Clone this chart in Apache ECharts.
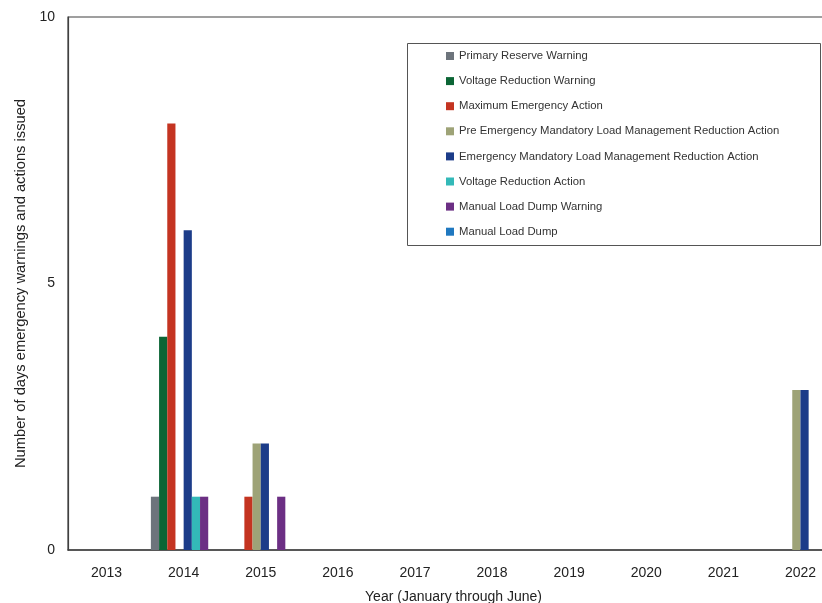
<!DOCTYPE html>
<html>
<head>
<meta charset="utf-8">
<script src="https://cdn.jsdelivr.net/npm/echarts@6/dist/echarts.min.js"></script>
<style>
  html, body { margin: 0; padding: 0; background: #fff; }
  #main { width: 822px; height: 603px; }
</style>
</head>
<body>
<div id="main"></div>
<script>
// 年份（一月到六月）
var years = ['2013', '2014', '2015', '2016', '2017', '2018', '2019', '2020', '2021', '2022'];

// 各类预警/行动的天数
var primaryReserveWarning   = [0, 1, 0, 0, 0, 0, 0, 0, 0, 0];
var voltageReductionWarning = [0, 4, 0, 0, 0, 0, 0, 0, 0, 0];
var maxEmergencyAction      = [0, 8, 1, 0, 0, 0, 0, 0, 0, 0];
var preEmergencyLoadMgmt    = [0, 0, 2, 0, 0, 0, 0, 0, 0, 3];
var emergencyLoadMgmt       = [0, 6, 2, 0, 0, 0, 0, 0, 0, 3];
var voltageReductionAction  = [0, 1, 0, 0, 0, 0, 0, 0, 0, 0];
var manualLoadDumpWarning   = [0, 1, 1, 0, 0, 0, 0, 0, 0, 0];
var manualLoadDump          = [0, 0, 0, 0, 0, 0, 0, 0, 0, 0];

var seriesNames = [
    'Primary Reserve Warning',
    'Voltage Reduction Warning',
    'Maximum Emergency Action',
    'Pre Emergency Mandatory Load Management Reduction Action',
    'Emergency Mandatory Load Management Reduction Action',
    'Voltage Reduction Action',
    'Manual Load Dump Warning',
    'Manual Load Dump'
];
var seriesData = [
    primaryReserveWarning, voltageReductionWarning, maxEmergencyAction,
    preEmergencyLoadMgmt, emergencyLoadMgmt, voltageReductionAction,
    manualLoadDumpWarning, manualLoadDump
];
var colors = ['#6d747c', '#0b6535', '#c43421', '#9ea377', '#1c3c89', '#33b9b8', '#6c2f84', '#1f78c0'];

var font = '"Liberation Sans", Arial, sans-serif';

var chart = echarts.init(document.getElementById('main'));

var series = seriesNames.map(function (name, i) {
    return {
        type: 'bar',
        name: name,
        data: seriesData[i],
        barGap: 0,
        barCategoryGap: '15%',
        itemStyle: { color: colors[i] }
    };
});

var option = {
    animation: false,
    color: colors,
    grid: {
        left: 68,
        top: 17,
        width: 771,
        height: 533,
        outerBoundsMode: 'none',
        containLabel: false,
        show: true,
        borderColor: '#404040',
        borderWidth: 1.2
    },
    // 图例外框
    graphic: [{
        type: 'rect',
        left: 405,
        top: 41,
        shape: { width: 413, height: 202 },
        style: { fill: 'none', stroke: '#555', lineWidth: 1 },
        z: 10
    }],
    legend: {
        orient: 'vertical',
        left: 446,
        top: 49,
        itemWidth: 8,
        itemHeight: 8,
        itemGap: 11.1,
        icon: 'rect',
        padding: 0,
        textStyle: { fontFamily: font, fontSize: 11.3, color: '#333', lineHeight: 14 },
        data: seriesNames
    },
    xAxis: {
        type: 'category',
        data: years,
        name: 'Year (January through June)',
        nameLocation: 'middle',
        nameGap: 40,
        nameTextStyle: { fontFamily: font, fontSize: 14, color: '#222' },
        axisLine: { lineStyle: { color: '#404040', width: 1.5 } },
        axisTick: { show: false },
        axisLabel: { fontFamily: font, fontSize: 14, color: '#222', margin: 16 }
    },
    yAxis: {
        type: 'value',
        min: 0,
        max: 10,
        interval: 5,
        name: 'Number of days emergency warnings and actions issued',
        nameLocation: 'middle',
        nameGap: 32,
        nameTextStyle: { fontFamily: font, fontSize: 14.7, color: '#222' },
        axisLine: { show: true, lineStyle: { color: '#404040', width: 1.2 } },
        axisTick: { show: false },
        splitLine: { show: false },
        axisLabel: { fontFamily: font, fontSize: 14, color: '#222', margin: 13 }
    },
    series: series
};

chart.setOption(option);
</script>
</body>
</html>
